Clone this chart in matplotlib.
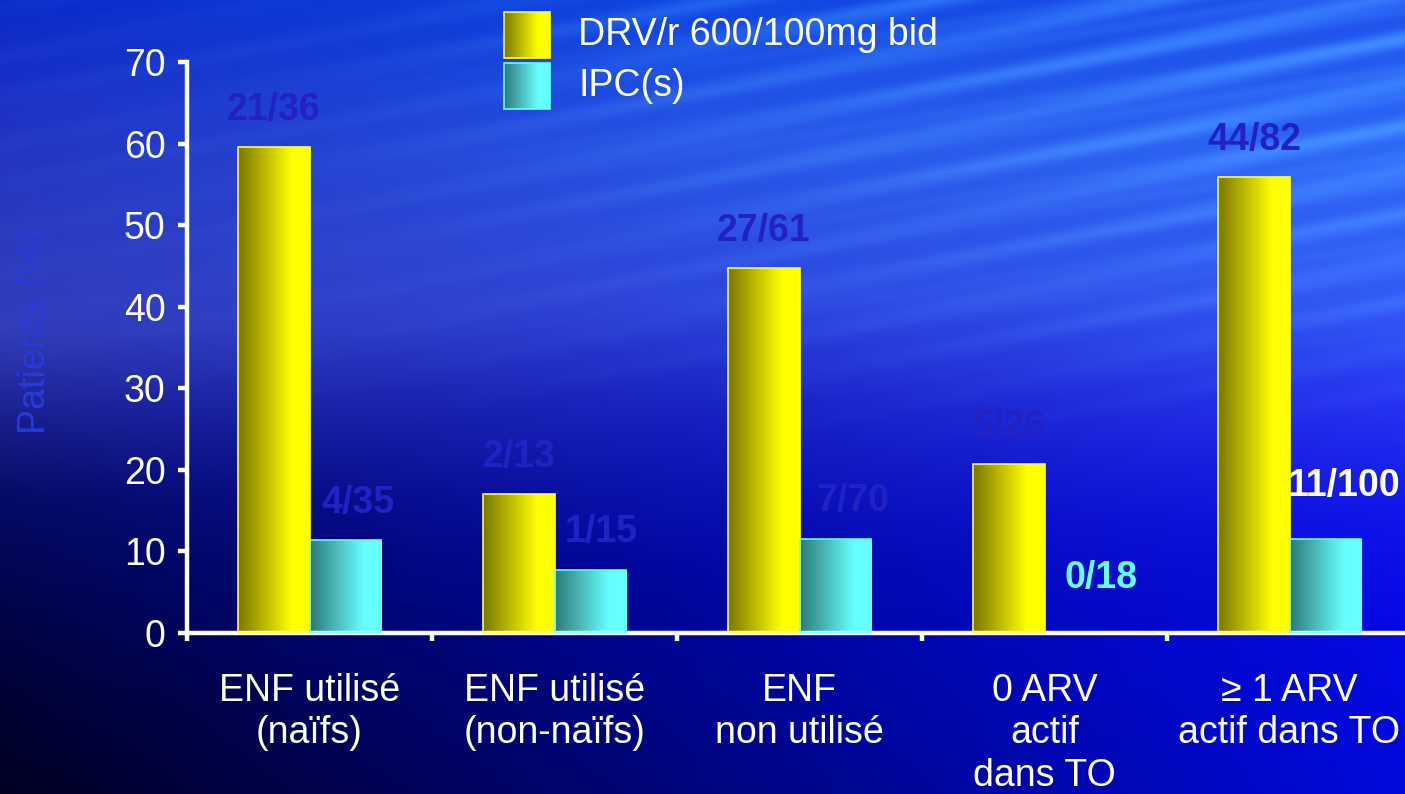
import numpy as np
import matplotlib
matplotlib.use("Agg")
import matplotlib.pyplot as plt
from matplotlib.colors import LinearSegmentedColormap
from matplotlib.patches import Rectangle

plt.rcParams["font.family"] = ["Liberation Sans", "DejaVu Sans"]

CATEGORIES = ["ENF utilisé\n(naïfs)", "ENF utilisé\n(non-naïfs)", "ENF\nnon utilisé",
              "0 ARV\nactif\ndans TO", "≥ 1 ARV\nactif dans TO"]
SERIES = ["DRV/r 600/100mg bid", "IPC(s)"]
DRV = [59.6, 17.0, 44.7, 20.7, 55.9]          # % patients
IPC = [11.4, 7.7, 11.5, 0.0, 11.5]
DRV_LABELS = ["21/36", "2/13", "27/61", "5/26", "44/82"]
IPC_LABELS = ["4/35", "1/15", "7/70", "0/18", "11/100"]
YTICKS = [0, 10, 20, 30, 40, 50, 60, 70]

W, H, DPI = 1405, 794, 100
FS = 27
BLUE_TXT = "#2222c4"
IPC_TXT = [BLUE_TXT, BLUE_TXT, BLUE_TXT, "#66ffff", "white"]
IPC_OFF = [(13, 37), (11, 38), (18, 38), (21, 55), (19, 53)]   # px from bar top

yellow = LinearSegmentedColormap.from_list("y", [(0, "#7a7600"), (0.75, "#ffff00"), (1, "#ffff00")])
cyan = LinearSegmentedColormap.from_list("c", [(0, "#2e7a78"), (0.75, "#66ffff"), (1, "#66ffff")])
GRAD = np.linspace(0, 1, 256)[None, :]

# ---------- background ----------
yy, xx = np.mgrid[0:H, 0:W].astype(float)
def col(ys, rgb):
    return np.stack([np.interp(np.arange(H), ys, c) for c in rgb], -1)
left = col([0, 120, 250, 330, 420, 500, 600, 700, 794],
           [[10, 30, 45, 50, 25, 5, 0, 0, 0], [40, 50, 58, 60, 30, 10, 5, 2, 0],
            [200, 195, 190, 185, 140, 100, 75, 50, 35]])
mid = col([0, 150, 300, 400, 480, 560, 650, 794],
          [[15, 40, 45, 25, 12, 3, 0, 0], [70, 85, 70, 35, 20, 8, 5, 5],
           [225, 230, 220, 195, 180, 165, 150, 125]])
right = col([0, 150, 300, 420, 520, 620, 794],
            [[30, 45, 50, 35, 15, 5, 0], [80, 105, 90, 45, 20, 10, 10],
             [235, 245, 245, 240, 235, 230, 220]])
t = (xx / W)[..., None]
bg = np.where(t < 0.5, left[:, None] * (1 - 2 * t) + mid[:, None] * 2 * t,
              mid[:, None] * (2 - 2 * t) + right[:, None] * (2 * t - 1))
# soft diagonal light streaks, strongest top right
wgt = np.clip(1 - yy / 450, 0, 1) * np.clip((xx - 200) / 1000, 0.15, 1)
stripe = (0.5 + 0.5 * np.sin(2 * np.pi * (yy + 0.2 * xx) / 44)) ** 2
stripe += 0.4 * (0.5 + 0.5 * np.sin(2 * np.pi * (yy + 0.16 * xx) / 29 + 1.0)) ** 2
bg += (wgt * stripe)[..., None] * np.array([24, 40, 18])
bg = np.clip(bg, 0, 255) / 255

fig = plt.figure(figsize=(W / DPI, H / DPI), dpi=DPI)
bax = fig.add_axes([0, 0, 1, 1]); bax.axis("off")
bax.imshow(bg, extent=(0, W, H, 0), aspect="auto", interpolation="bilinear")

# ---------- bars ----------
ax = fig.add_axes([187 / W, (H - 633) / H, 1225 / W, 571 / H])
ax.patch.set_visible(False)
x = np.arange(len(CATEGORIES)) + 0.5
bw = 0.29

def shade(bars, cmap, edge):
    for b in bars:
        if b.get_height() <= 0:
            continue
        x0, w, h = b.get_x(), b.get_width(), b.get_height()
        im = ax.imshow(GRAD, cmap=cmap, aspect="auto", extent=(x0, x0 + w, 0, h), zorder=2)
        im.set_clip_path(b)
        b.set_facecolor("none"); b.set_edgecolor(edge); b.set_zorder(3)

b1 = ax.bar(x - bw, DRV, bw, align="edge", linewidth=1.2)
b2 = ax.bar(x, IPC, bw, align="edge", linewidth=1.2)
shade(b1, yellow, "#ffff33")
shade(b2, cyan, "#66ffff")

for xi, v, s in zip(x, DRV, DRV_LABELS):
    ax.annotate(s, (xi - bw / 2, v), xytext=(0, 37 * 0.72), textcoords="offset points",
                ha="center", va="center", fontsize=FS, fontweight="bold", color=BLUE_TXT)
for xi, v, s, c, (dx, dy) in zip(x, IPC, IPC_LABELS, IPC_TXT, IPC_OFF):
    ax.annotate(s, (xi + bw / 2, v), xytext=(dx * 0.72, dy * 0.72), textcoords="offset points",
                ha="center", va="center", fontsize=FS, fontweight="bold", color=c)

ax.set_xlim(0, 5); ax.set_ylim(0, 70)
ax.set_yticks(YTICKS)
ax.set_xticks(range(5)); ax.set_xticklabels([])
ax.set_xticks(x, minor=True)
ax.set_xticklabels(CATEGORIES, minor=True, linespacing=1.22)
for s in ["top", "right"]:
    ax.spines[s].set_visible(False)
for s in ["left", "bottom"]:
    ax.spines[s].set_color("white"); ax.spines[s].set_linewidth(3.2)
ax.tick_params(axis="y", colors="white", labelsize=FS, length=6.5, width=3.2, pad=9)
ax.tick_params(axis="x", which="major", colors="white", length=6, width=3.2)
ax.tick_params(axis="x", which="minor", colors="white", labelsize=FS, length=0, pad=29)

# ---------- legend / y label ----------
ov = fig.add_axes([0, 0, 1, 1]); ov.axis("off")
for (top, cmap, edge), name in zip([(12, yellow, "#ffff33"), (63, cyan, "#66ffff")], SERIES):
    ov.imshow(GRAD, cmap=cmap, aspect="auto", extent=(504, 550, top + 46, top))
    ov.add_patch(Rectangle((504, top), 46, 46, fill=False, ec=edge, lw=1.2))
    ov.text(578, top + 23, name, color="white", fontsize=FS, va="center", ha="left")
ov.set_xlim(0, W); ov.set_ylim(H, 0)
ov.text(35, 331, "Patients (%)", rotation=90, ha="center", va="center",
        fontsize=FS, color="#2a3ad8")

fig.savefig("out.png", dpi=DPI)
